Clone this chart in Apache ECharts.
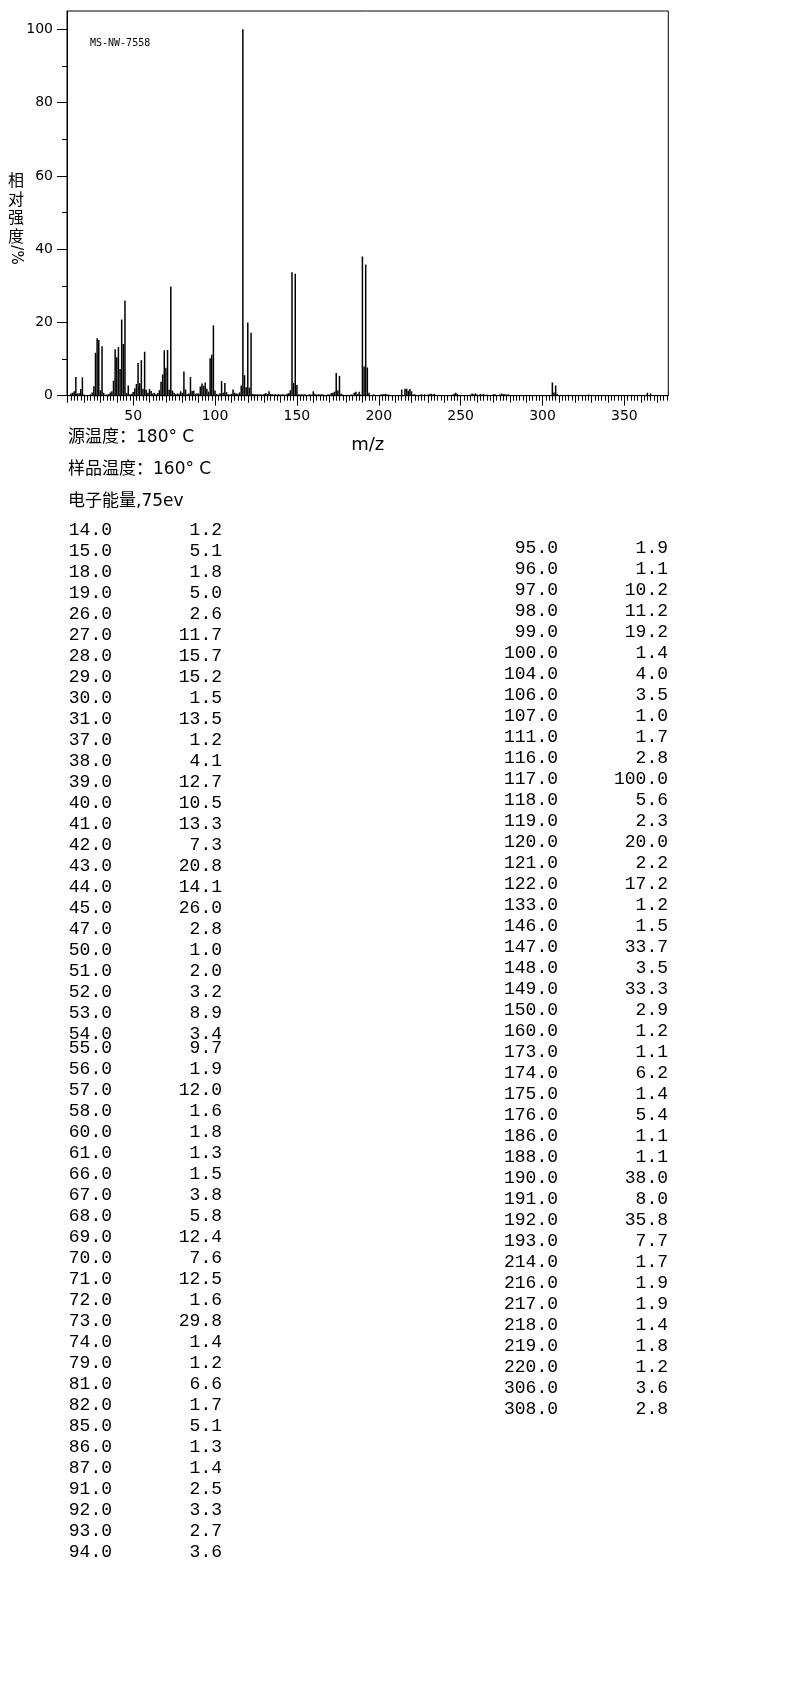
<!DOCTYPE html>
<html>
<head>
<meta charset="utf-8">
<script src="https://cdn.jsdelivr.net/npm/echarts@6/dist/echarts.min.js"></script>
<style>
  html, body { margin: 0; padding: 0; background: #fff; }
  #main { width: 794px; height: 1701px; }
</style>
</head>
<body>
<div id="main"></div>
<script>
// 表中列出的峰
var peakMz = [14, 15, 18, 19, 26, 27, 28, 29, 30, 31, 37, 38, 39, 40, 41, 42, 43, 44, 45, 47,
  50, 51, 52, 53, 54, 55, 56, 57, 58, 60, 61, 66, 67, 68, 69, 70, 71, 72, 73, 74,
  79, 81, 82, 85, 86, 87, 91, 92, 93, 94,
  95, 96, 97, 98, 99, 100, 104, 106, 107, 111, 116, 117, 118, 119, 120, 121, 122, 133, 146, 147,
  148, 149, 150, 160, 173, 174, 175, 176, 186, 188, 190, 191, 192, 193, 214, 216, 217, 218, 219, 220,
  306, 308];
var peakInt = [1.2, 5.1, 1.8, 5.0, 2.6, 11.7, 15.7, 15.2, 1.5, 13.5, 1.2, 4.1, 12.7, 10.5, 13.3, 7.3, 20.8, 14.1, 26.0, 2.8,
  1.0, 2.0, 3.2, 8.9, 3.4, 9.7, 1.9, 12.0, 1.6, 1.8, 1.3, 1.5, 3.8, 5.8, 12.4, 7.6, 12.5, 1.6, 29.8, 1.4,
  1.2, 6.6, 1.7, 5.1, 1.3, 1.4, 2.5, 3.3, 2.7, 3.6,
  1.9, 1.1, 10.2, 11.2, 19.2, 1.4, 4.0, 3.5, 1.0, 1.7, 2.8, 100.0, 5.6, 2.3, 20.0, 2.2, 17.2, 1.2, 1.5, 33.7,
  3.5, 33.3, 2.9, 1.2, 1.1, 6.2, 1.4, 5.4, 1.1, 1.1, 38.0, 8.0, 35.8, 7.7, 1.7, 1.9, 1.9, 1.4, 1.8, 1.2,
  3.6, 2.8];

// 表中未列出的小峰 (<1%)，从谱图估读
var minorMz = [12, 13, 16, 17, 20, 24, 25, 32, 33, 34, 35, 36, 46, 48, 49, 59, 62, 63, 64, 65,
  75, 76, 77, 78, 80, 83, 84, 88, 89, 90, 101, 102, 103, 105, 108, 109, 110, 112, 113, 114,
  115, 123, 124, 125, 126, 127, 128, 129, 130, 131, 132, 134, 135, 136, 137, 138, 139, 140, 141, 142,
  143, 144, 145, 151, 152, 153, 154, 155, 157, 158, 159, 161, 162, 163, 164, 165, 166, 169, 170, 171,
  172, 177, 178, 183, 184, 185, 187, 189, 194, 197, 201, 202, 203, 204, 205, 206, 221, 222, 226, 228,
  230, 231, 232, 233, 234, 245, 246, 247, 248, 256, 257, 258, 259, 260, 262, 263, 264, 266, 270, 271,
  274, 275, 276, 277, 278, 279, 307, 309, 328, 364, 366];
var minorInt = [0.6, 0.8, 0.6, 0.7, 0.3, 0.4, 0.9, 0.8, 0.3, 0.3, 0.4, 0.9, 0.7, 0.4, 0.5, 0.8, 0.6, 0.8, 0.4, 0.7,
  0.8, 0.4, 0.6, 0.5, 0.8, 0.4, 0.6, 0.5, 0.7, 0.6, 0.5, 0.3, 0.7, 0.8, 0.4, 0.3, 0.5, 0.8, 0.6, 0.5,
  0.9, 0.5, 0.4, 0.4, 0.4, 0.3, 0.4, 0.3, 0.5, 0.7, 0.5, 0.5, 0.4, 0.3, 0.4, 0.3, 0.4, 0.3, 0.4, 0.3,
  0.3, 0.5, 0.7, 0.4, 0.3, 0.4, 0.3, 0.4, 0.3, 0.4, 0.3, 0.5, 0.3, 0.4, 0.3, 0.4, 0.3, 0.4, 0.3, 0.7,
  0.8, 0.5, 0.3, 0.3, 0.3, 0.8, 0.5, 0.3, 0.8, 0.4, 0.3, 0.4, 0.4, 0.5, 0.4, 0.3, 0.3, 0.4, 0.4, 0.4,
  0.3, 0.4, 0.5, 0.3, 0.5, 0.3, 0.5, 0.8, 0.5, 0.3, 0.6, 0.4, 0.6, 0.3, 0.5, 0.3, 0.5, 0.3, 0.4, 0.4,
  0.3, 0.6, 0.4, 0.4, 0.3, 0.4, 0.9, 0.5, 0.3, 0.8, 0.6];

var xLabels = [50, 100, 150, 200, 250, 300, 350];
var yLabels = [0, 20, 40, 60, 80, 100];
var yMinorTicks = [10, 30, 50, 70, 90];
var infoLines = ["源温度：180° C", "样品温度：160° C", "电子能量,75ev"];
var sampleId = "MS-NW-7558";
var leftRows = 50;   // 左列行数，其余放右列

var xTens = [], xTwos = [];
for (var v = 10; v <= 376; v += 2) {
  if (v % 50 === 0) continue;
  if (v % 10 === 0) xTens.push(v); else xTwos.push(v);
}

var barData = [];
for (var i = 0; i < peakMz.length; i++) barData.push([peakMz[i], peakInt[i]]);
for (var j = 0; j < minorMz.length; j++) barData.push([minorMz[j], minorInt[j]]);

var labelFont = { color: "#000", fontSize: 14, fontFamily: "DejaVu Sans" };
var monoFont = "18px 'Liberation Mono', monospace";

var graphics = [];
graphics.push({ type: "text", x: 90, y: 43, style: { text: sampleId, font: "10px 'DejaVu Sans Mono', monospace", fill: "#000", textVerticalAlign: "middle" } });
graphics.push({ type: "text", x: 16, y: 171, style: { text: "相\n对\n强\n度", font: "16px 'Noto Sans CJK SC'", lineHeight: 18.5, fill: "#000", textAlign: "center" } });
graphics.push({ type: "text", x: 16, y: 255, rotation: -Math.PI / 2, style: { text: "/%", font: "15px 'DejaVu Sans'", fill: "#000", textAlign: "center", textVerticalAlign: "middle" } });
infoLines.forEach(function (t, k) {
  graphics.push({ type: "text", x: 68, y: 438 + k * 32, style: { text: t, font: "17px 'DejaVu Sans', 'Noto Sans CJK SC'", fill: "#000", textVerticalAlign: "middle" } });
});

// 峰表
peakMz.forEach(function (mz, k) {
  var left = k < leftRows;
  var row = left ? k : k - leftRows;
  var y = left ? 530 + row * 21 - (row >= 25 ? 6.7 : 0) : 548.5 + row * 21;
  var xm = left ? 112 : 558;
  var xv = left ? 222 : 668;
  graphics.push({ type: "text", x: xm, y: y, style: { text: mz.toFixed(1), font: monoFont, fill: "#000", textAlign: "right", textVerticalAlign: "middle" } });
  graphics.push({ type: "text", x: xv, y: y, style: { text: peakInt[k].toFixed(1), font: monoFont, fill: "#000", textAlign: "right", textVerticalAlign: "middle" } });
});

var xBase = { type: "value", min: 9.6, max: 376.8, position: "bottom", splitLine: { show: false } };
var yBase = { type: "value", min: 0, max: 105, position: "left", splitLine: { show: false } };

var myChart = echarts.init(document.getElementById("main"));
var option = {
  backgroundColor: "#fff",
  animation: false,
  grid: { left: 67, top: 11, width: 601.3, height: 384.7, show: true, borderColor: "#000", borderWidth: 1 },
  xAxis: [
    Object.assign({}, xBase, {
      axisLine: { lineStyle: { color: "#000", width: 1 } },
      axisTick: { customValues: xLabels, length: 10, lineStyle: { color: "#000", width: 1 } },
      axisLabel: Object.assign({ customValues: xLabels, margin: 14 }, labelFont),
      name: "m/z",
      nameLocation: "middle",
      nameGap: 41,
      nameTextStyle: { color: "#000", fontSize: 18, fontFamily: "DejaVu Sans" }
    }),
    Object.assign({}, xBase, {
      axisLine: { show: false },
      axisTick: { customValues: xTens, length: 7, lineStyle: { color: "#000", width: 1 } },
      axisLabel: { show: false }
    }),
    Object.assign({}, xBase, {
      axisLine: { show: false },
      axisTick: { customValues: xTwos, length: 5, lineStyle: { color: "#000", width: 1 } },
      axisLabel: { show: false }
    })
  ],
  yAxis: [
    Object.assign({}, yBase, {
      axisLine: { show: true, lineStyle: { color: "#000", width: 1 } },
      axisTick: { show: true, customValues: yLabels, length: 10, lineStyle: { color: "#000", width: 1 } },
      axisLabel: Object.assign({ customValues: yLabels, margin: 14 }, labelFont)
    }),
    Object.assign({}, yBase, {
      axisLine: { show: false },
      axisTick: { show: true, customValues: yMinorTicks, length: 5, lineStyle: { color: "#000", width: 1 } },
      axisLabel: { show: false }
    })
  ],
  series: [
    {
      type: "bar",
      xAxisIndex: 0,
      yAxisIndex: 0,
      barWidth: 1.5,
      itemStyle: { color: "#000" },
      data: barData
    }
  ],
  graphic: graphics
};
myChart.setOption(option);
window.addEventListener("resize", function () {
  myChart.resize();
});
</script>
</body>
</html>
